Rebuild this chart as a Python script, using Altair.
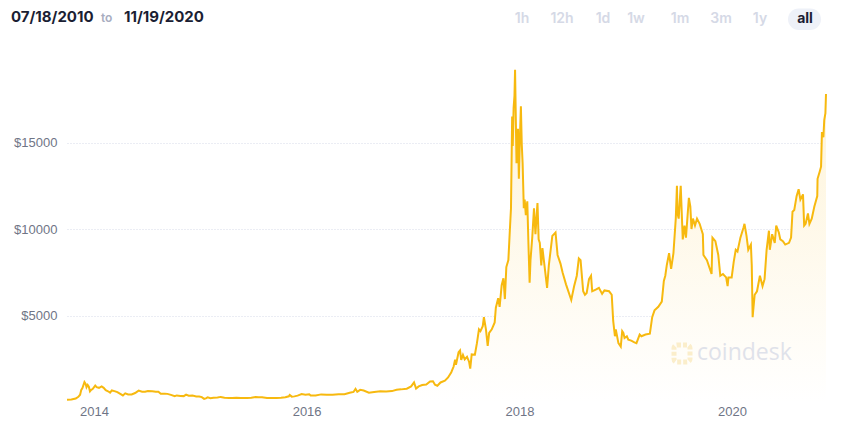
import altair as alt
import pandas as pd

# ---- data (approximate closes, USD) ----
dates = [
    "2013-09-30", "2013-10-15", "2013-10-30", "2013-11-08", "2013-11-14", "2013-11-18", "2013-11-22", "2013-11-29",
    "2013-12-03", "2013-12-06", "2013-12-10", "2013-12-14", "2013-12-18", "2013-12-22", "2013-12-27",
    "2014-01-05", "2014-01-10", "2014-01-18", "2014-01-27", "2014-02-03", "2014-02-10", "2014-02-18", "2014-02-25",
    "2014-03-03", "2014-03-12", "2014-03-22", "2014-04-01", "2014-04-10", "2014-04-18", "2014-04-28", "2014-05-10",
    "2014-05-22", "2014-06-03", "2014-06-15", "2014-06-25", "2014-07-05", "2014-07-20", "2014-08-01", "2014-08-10",
    "2014-08-18", "2014-09-01", "2014-09-10", "2014-09-22", "2014-10-05", "2014-10-12", "2014-10-25", "2014-11-05",
    "2014-11-13", "2014-11-22", "2014-12-05", "2014-12-18", "2014-12-28",
    "2015-01-06", "2015-01-14", "2015-01-20", "2015-01-26", "2015-02-05", "2015-02-15", "2015-03-01", "2015-03-12",
    "2015-03-25", "2015-04-10", "2015-04-20", "2015-05-05", "2015-05-20", "2015-06-10", "2015-06-25", "2015-07-10",
    "2015-07-20", "2015-08-01", "2015-08-18", "2015-09-01", "2015-09-20", "2015-10-05", "2015-10-20", "2015-11-01",
    "2015-11-04", "2015-11-11", "2015-11-20", "2015-12-01", "2015-12-15", "2015-12-28",
    "2016-01-10", "2016-01-15", "2016-02-01", "2016-02-20", "2016-03-10", "2016-03-30", "2016-04-20", "2016-05-10",
    "2016-05-28", "2016-06-10", "2016-06-17", "2016-06-23", "2016-07-03", "2016-07-15", "2016-08-02", "2016-08-20",
    "2016-09-10", "2016-09-30", "2016-10-20", "2016-11-05", "2016-11-20", "2016-12-10", "2016-12-25",
    "2017-01-04", "2017-01-11", "2017-01-20", "2017-02-01", "2017-02-15", "2017-02-28", "2017-03-10", "2017-03-17",
    "2017-03-25", "2017-04-05", "2017-04-20", "2017-05-01", "2017-05-12", "2017-05-20", "2017-05-25", "2017-05-28",
    "2017-06-06", "2017-06-11", "2017-06-15", "2017-06-21", "2017-06-27", "2017-07-05", "2017-07-12", "2017-07-16",
    "2017-07-21", "2017-08-01", "2017-08-08", "2017-08-15", "2017-08-20", "2017-08-28", "2017-09-01", "2017-09-08",
    "2017-09-14", "2017-09-19", "2017-09-28", "2017-10-08", "2017-10-12", "2017-10-20", "2017-10-25", "2017-11-01",
    "2017-11-07", "2017-11-12", "2017-11-17", "2017-11-24", "2017-11-29", "2017-12-03", "2017-12-07", "2017-12-09",
    "2017-12-12", "2017-12-15", "2017-12-17", "2017-12-19", "2017-12-22", "2017-12-24", "2017-12-27", "2017-12-30",
    "2018-01-02", "2018-01-06", "2018-01-09", "2018-01-12", "2018-01-16", "2018-01-19", "2018-01-23", "2018-01-28",
    "2018-02-01", "2018-02-05", "2018-02-08", "2018-02-14", "2018-02-20", "2018-02-25", "2018-03-04", "2018-03-08",
    "2018-03-12", "2018-03-17", "2018-03-21", "2018-03-28", "2018-04-06", "2018-04-12", "2018-04-24", "2018-05-05",
    "2018-05-12", "2018-05-22", "2018-05-29", "2018-06-10", "2018-06-24", "2018-06-28", "2018-07-08", "2018-07-17",
    "2018-07-24", "2018-07-30", "2018-08-08", "2018-08-14", "2018-08-20", "2018-08-28", "2018-09-04", "2018-09-08",
    "2018-09-20", "2018-10-01", "2018-10-12", "2018-10-20", "2018-11-05", "2018-11-14", "2018-11-19", "2018-11-25",
    "2018-11-28", "2018-12-07", "2018-12-15", "2018-12-20", "2018-12-24", "2018-12-28",
    "2019-01-05", "2019-01-10", "2019-01-20", "2019-01-31", "2019-02-07", "2019-02-18", "2019-02-24", "2019-03-10",
    "2019-03-25", "2019-04-02", "2019-04-10", "2019-04-23", "2019-05-05", "2019-05-12", "2019-05-17", "2019-05-22",
    "2019-05-30", "2019-06-06", "2019-06-14", "2019-06-22", "2019-06-26", "2019-06-28", "2019-07-02", "2019-07-09",
    "2019-07-16", "2019-07-22", "2019-07-27", "2019-08-06", "2019-08-11", "2019-08-15", "2019-08-20", "2019-08-27",
    "2019-09-03", "2019-09-12", "2019-09-23", "2019-09-25", "2019-10-07", "2019-10-23", "2019-10-26", "2019-11-05",
    "2019-11-15", "2019-11-22", "2019-12-01", "2019-12-12", "2019-12-17", "2019-12-20", "2019-12-31",
    "2020-01-07", "2020-01-14", "2020-01-20", "2020-01-30", "2020-02-10", "2020-02-13", "2020-02-20", "2020-02-26",
    "2020-03-06", "2020-03-09", "2020-03-12", "2020-03-14", "2020-03-19", "2020-03-27", "2020-04-06", "2020-04-15",
    "2020-04-22", "2020-04-29", "2020-05-07", "2020-05-10", "2020-05-18", "2020-05-27", "2020-06-01", "2020-06-10",
    "2020-06-15", "2020-06-24", "2020-07-02", "2020-07-15", "2020-07-22", "2020-07-27", "2020-08-02", "2020-08-10",
    "2020-08-17", "2020-08-23", "2020-09-01", "2020-09-05", "2020-09-10", "2020-09-18", "2020-09-23", "2020-10-01",
    "2020-10-10", "2020-10-20", "2020-10-21", "2020-10-28", "2020-11-02", "2020-11-05", "2020-11-10", "2020-11-13",
    "2020-11-17", "2020-11-19",
]
prices = [
    125, 140, 200, 300, 420, 700, 800, 1150,
    1050, 850, 980, 880, 620, 700, 750,
    950, 860, 820, 900, 820, 680, 620, 540,
    670, 630, 570, 470, 380, 500, 440, 440,
    520, 660, 590, 590, 630, 620, 590, 590,
    480, 480, 470, 410, 330, 380, 350, 340,
    430, 360, 370, 320, 320,
    280, 180, 210, 270, 220, 240, 255, 295,
    250, 235, 225, 240, 235, 230, 245, 290,
    280, 280, 235, 228, 232, 240, 270, 330,
    410, 310, 325, 370, 460, 425,
    450, 375, 375, 440, 415, 415, 445, 455,
    530, 580, 760, 590, 700, 660, 540, 580,
    620, 610, 630, 710, 730, 770, 900,
    1130, 780, 900, 980, 1010, 1190, 1200, 1000,
    940, 1130, 1230, 1420, 1720, 2050, 2450, 2150,
    2880, 2980, 2430, 2720, 2460, 2610, 2330, 1930,
    2750, 2730, 3400, 4200, 4100, 4380, 4900, 4200,
    3250, 4000, 4200, 4600, 5450, 6000, 5500, 6750,
    7150, 5950, 7800, 8200, 9900, 11200, 16500, 14800,
    17000, 17700, 19200, 17000, 13800, 14100, 15800, 12900,
    14900, 17100, 14900, 13800, 11200, 11700, 10800, 11600,
    9100, 6900, 8200, 9500, 11200, 9700, 11500, 9400,
    9200, 7900, 8900, 7900, 6600, 7900, 9600, 9800,
    8500, 8000, 7500, 6800, 6100, 5900, 6700, 7300,
    8300, 8200, 6400, 6200, 6300, 7100, 7300, 6400,
    6500, 6600, 6250, 6450, 6400, 6200, 4700, 3800,
    4200, 3400, 3200, 4100, 4000, 3700,
    3800, 3600, 3550, 3450, 3400, 3900, 3800, 3900,
    3950, 4900, 5300, 5500, 5800, 7000, 7300, 7900,
    8600, 7700, 8600, 10600, 12500, 10900, 10600, 12500,
    9400, 10200, 9500, 11800, 11300, 10000, 10600, 10200,
    10600, 10300, 9700, 8500, 8200, 7400, 9500, 9300,
    8500, 7300, 7400, 7200, 6700, 7200, 7200,
    8100, 8800, 8700, 9500, 10100, 10300, 9600, 8800,
    9100, 7900, 4900, 5300, 6200, 6400, 7300, 6700,
    7100, 8800, 9900, 8800, 9700, 9200, 10200, 9800,
    9400, 9300, 9100, 9200, 9500, 11000, 11100, 11900,
    12300, 11700, 12000, 10200, 10300, 10900, 10300, 10600,
    11300, 11900, 12900, 13300, 13600, 15600, 15300, 16300,
    16700, 17800,
]
y_ticks = [5000, 10000, 15000]
x_tick_years = [2014, 2016, 2018, 2020]
start_label = "07/18/2010"
end_label = "11/19/2020"
buttons = ["1h", "12h", "1d", "1w", "1m", "3m", "1y", "all"]

df = pd.DataFrame({"date": pd.to_datetime(dates), "price": prices})

GOLD = "#f7b90f"
x_enc = alt.X(
    "date:T",
    scale=alt.Scale(domain=[alt.DateTime(year=2013, month=9, date=30),
                            alt.DateTime(year=2020, month=11, date=19)], nice=False),
    axis=alt.Axis(
        values=[alt.DateTime(year=y, month=1, date=1) for y in x_tick_years],
        format="%Y", grid=False, domain=False, ticks=False, labelPadding=13,
        labelBaseline="alphabetic",
        labelFont="Liberation Sans", labelFontSize=13, labelColor="#6f7586", title=None,
    ),
)
y_enc = alt.Y(
    "price:Q",
    scale=alt.Scale(domain=[0, 20000], nice=False),
    axis=alt.Axis(
        values=y_ticks, labelExpr="'$' + datum.value", grid=True, gridDash=[1, 2],
        gridColor="#d6dbe8", gridWidth=1, domain=False, ticks=False, labelPadding=10,
        labelFont="Liberation Sans", labelFontSize=13, labelColor="#6f7586", title=None,
    ),
)

gradient = alt.Gradient(
    gradient="linear",
    stops=[alt.GradientStop(color="#ffffff", offset=0),
           alt.GradientStop(color="#fef3d6", offset=1)],
    x1=1, x2=1, y1=1, y2=0,
)

base = alt.Chart(df)
area = base.mark_area(color=gradient).encode(x=x_enc, y=y_enc)
line = base.mark_line(color=GOLD, strokeWidth=2).encode(x=x_enc, y=y_enc)

one = pd.DataFrame({"k": [0]})
layers = [area]

# watermark
layers.append(alt.Chart(one).mark_rect(fill=None, stroke="#fbeecb", strokeWidth=5, cornerRadius=3,
                                       strokeDash=[4, 2]).encode(
    x=alt.value(607), x2=alt.value(623), y=alt.value(289), y2=alt.value(306)))
layers.append(alt.Chart(one).mark_text(text="coindesk", font="Open Sans", fontSize=23, color="#dfe2ea",
                                       align="left", baseline="middle").encode(
    x=alt.value(630), y=alt.value(297)))
layers.append(line)

# header
layers.append(alt.Chart(one).mark_text(text=start_label, font="Inter", fontSize=15, fontWeight=700,
                                       color="#1b1e33", align="left", baseline="middle").encode(
    x=alt.value(-56), y=alt.value(-39)))
layers.append(alt.Chart(one).mark_text(text="to", font="Inter", fontSize=12, fontWeight=600,
                                       color="#a8adbf", align="left", baseline="middle").encode(
    x=alt.value(34), y=alt.value(-38)))
layers.append(alt.Chart(one).mark_text(text=end_label, font="Inter", fontSize=15, fontWeight=700,
                                       color="#1b1e33", align="left", baseline="middle").encode(
    x=alt.value(57), y=alt.value(-39)))

# range buttons
btn_x = [455, 495, 536, 569, 613, 654, 693, 738]
layers.append(alt.Chart(one).mark_rect(color="#eef1f8", cornerRadius=11).encode(
    x=alt.value(721), x2=alt.value(754), y=alt.value(-47.5), y2=alt.value(-26)))
for lab, bx in zip(buttons, btn_x):
    active = lab == "all"
    layers.append(alt.Chart(one).mark_text(
        text=lab, font="Inter", fontSize=14, fontWeight=700 if active else 600,
        color="#1b1e33" if active else "#d5d9e6", align="center", baseline="middle").encode(
        x=alt.value(bx), y=alt.value(-37)))

chart = alt.layer(*layers).properties(
    width=759, height=346,
    autosize=alt.AutoSizeParams(type="none"),
    padding={"left": 59, "top": 48, "right": 7, "bottom": 16},
    background="white",
).configure_view(stroke=None)

chart.save("out.html", embed_options={"renderer": "svg", "actions": False})
